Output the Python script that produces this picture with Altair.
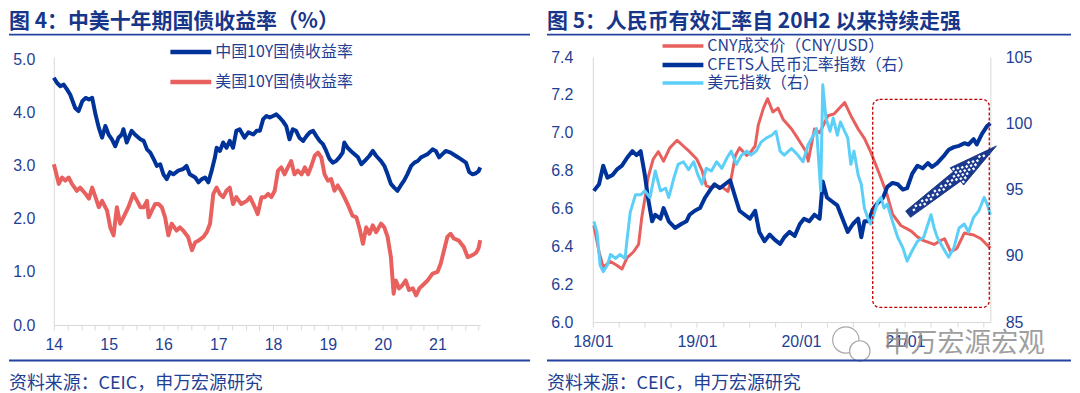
import math
import altair as alt
import numpy as np
import pandas as pd

CJK = "Noto Sans CJK SC"
NUM = "Liberation Sans"
LABEL_C = "#1F3F94"
TITLE_C = "#17368A"
RULE_C = "#2443A0"
AXIS_C = "#D9D9D9"

# ---------------- left panel data (decimal year, %) ----------------
cn_x = [2014.00, 2014.06, 2014.12, 2014.18, 2014.24, 2014.30, 2014.39, 2014.45, 2014.52, 2014.58, 2014.64, 2014.70, 2014.76, 2014.82, 2014.88, 2014.94,
        2015.00, 2015.06, 2015.12, 2015.18, 2015.24, 2015.27, 2015.33, 2015.42, 2015.48, 2015.58, 2015.64, 2015.70, 2015.76, 2015.82, 2015.88, 2015.94,
        2016.00, 2016.06, 2016.12, 2016.18, 2016.27, 2016.36, 2016.42, 2016.48, 2016.58, 2016.64, 2016.70, 2016.76, 2016.82, 2016.88, 2016.94, 2016.97,
        2017.03, 2017.09, 2017.15, 2017.21, 2017.27, 2017.33, 2017.39, 2017.48, 2017.55, 2017.64, 2017.70, 2017.76, 2017.82, 2017.88, 2017.94,
        2018.00, 2018.06, 2018.12, 2018.18, 2018.24, 2018.30, 2018.36, 2018.42, 2018.48, 2018.55, 2018.61, 2018.67, 2018.73, 2018.79, 2018.85, 2018.91, 2018.97,
        2019.03, 2019.09, 2019.15, 2019.21, 2019.27, 2019.30, 2019.36, 2019.45, 2019.55, 2019.61, 2019.67, 2019.76, 2019.82, 2019.88, 2019.97,
        2020.03, 2020.09, 2020.15, 2020.21, 2020.27, 2020.33, 2020.39, 2020.45, 2020.52, 2020.58, 2020.64, 2020.70, 2020.76, 2020.82, 2020.91, 2020.97,
        2021.03, 2021.09, 2021.15, 2021.24, 2021.33, 2021.42, 2021.52, 2021.58, 2021.64, 2021.70, 2021.75, 2021.78]
cn_y = [4.66, 4.56, 4.50, 4.53, 4.44, 4.34, 4.09, 4.03, 4.22, 4.28, 4.25, 4.28, 3.97, 3.72, 3.53, 3.75,
        3.59, 3.50, 3.37, 3.53, 3.59, 3.69, 3.44, 3.66, 3.59, 3.50, 3.47, 3.31, 3.25, 3.13, 3.00, 3.03,
        2.84, 2.75, 2.88, 2.84, 2.91, 2.94, 3.00, 2.84, 2.78, 2.69, 2.75, 2.78, 2.69, 2.91, 3.16, 3.34,
        3.28, 3.44, 3.34, 3.47, 3.34, 3.66, 3.69, 3.53, 3.63, 3.59, 3.66, 3.66, 3.88, 3.94, 3.91,
        3.94, 3.97, 3.91, 3.84, 3.75, 3.50, 3.69, 3.66, 3.53, 3.47, 3.56, 3.63, 3.66, 3.56, 3.47, 3.41, 3.28,
        3.13, 3.06, 3.09, 3.16, 3.25, 3.44, 3.34, 3.25, 3.16, 3.03, 3.09, 3.19, 3.28, 3.19, 3.09,
        3.00, 2.84, 2.66, 2.59, 2.53, 2.63, 2.72, 2.84, 3.00, 3.06, 3.09, 3.16, 3.19, 3.22, 3.31, 3.28,
        3.16, 3.22, 3.28, 3.25, 3.19, 3.13, 3.06, 2.88, 2.84, 2.86, 2.90, 2.97]

us_x = [2014.00, 2014.03, 2014.09, 2014.15, 2014.21, 2014.27, 2014.33, 2014.42, 2014.48, 2014.58, 2014.64, 2014.70, 2014.76, 2014.82, 2014.88, 2014.97,
        2015.03, 2015.09, 2015.15, 2015.21, 2015.27, 2015.36, 2015.45, 2015.52, 2015.58, 2015.64, 2015.70, 2015.73, 2015.79, 2015.85, 2015.91, 2015.97,
        2016.03, 2016.09, 2016.15, 2016.24, 2016.30, 2016.36, 2016.45, 2016.52, 2016.58, 2016.64, 2016.73, 2016.79, 2016.85, 2016.91, 2016.97,
        2017.03, 2017.09, 2017.15, 2017.21, 2017.27, 2017.33, 2017.42, 2017.52, 2017.58, 2017.64, 2017.68, 2017.72, 2017.79, 2017.85, 2017.91, 2017.97,
        2018.03, 2018.09, 2018.15, 2018.21, 2018.27, 2018.33, 2018.39, 2018.45, 2018.52, 2018.58, 2018.64, 2018.70, 2018.76, 2018.82, 2018.88, 2018.94,
        2019.00, 2019.06, 2019.12, 2019.18, 2019.24, 2019.30, 2019.36, 2019.45, 2019.52, 2019.58, 2019.64, 2019.70, 2019.76, 2019.82, 2019.88, 2019.97,
        2020.03, 2020.09, 2020.15, 2020.20, 2020.24, 2020.30, 2020.36, 2020.42, 2020.48, 2020.55, 2020.61, 2020.67, 2020.73, 2020.82, 2020.91,
        2021.00, 2021.06, 2021.12, 2021.18, 2021.24, 2021.30, 2021.39, 2021.48, 2021.55, 2021.60, 2021.66, 2021.71, 2021.75, 2021.78]
us_y = [3.03, 2.91, 2.66, 2.78, 2.72, 2.78, 2.66, 2.53, 2.59, 2.47, 2.38, 2.59, 2.41, 2.22, 2.34, 2.16,
        1.84, 1.69, 2.22, 1.91, 2.03, 2.22, 2.47, 2.34, 2.22, 2.22, 2.34, 2.03, 2.16, 2.28, 2.28, 2.22,
        2.03, 1.69, 1.91, 1.78, 1.84, 1.78, 1.66, 1.41, 1.56, 1.59, 1.66, 1.75, 1.91, 2.47, 2.59,
        2.47, 2.41, 2.53, 2.59, 2.28, 2.41, 2.28, 2.34, 2.41, 2.28, 2.19, 2.09, 2.41, 2.41, 2.47, 2.41,
        2.53, 2.91, 2.97, 2.84, 2.97, 3.09, 2.84, 2.91, 2.84, 2.97, 2.84, 3.00, 3.19, 3.25, 3.16, 2.84,
        2.72, 2.75, 2.53, 2.63, 2.53, 2.41, 2.28, 2.06, 2.03, 1.81, 1.53, 1.84, 1.72, 1.88, 1.75, 1.91,
        1.84, 1.66, 1.28, 0.59, 0.84, 0.69, 0.75, 0.84, 0.66, 0.69, 0.56, 0.69, 0.75, 0.84, 0.97,
        1.00, 1.16, 1.41, 1.66, 1.72, 1.63, 1.59, 1.47, 1.28, 1.30, 1.33, 1.37, 1.45, 1.60]

left_names = ["中国10Y国债收益率", "美国10Y国债收益率"]
left_colors = ["#003399", "#E8615F"]
left_x_ticks = [2014 + 0.25 * i for i in range(32)]
left_y_ticks = [0, 1, 2, 3, 4, 5]

# ---------------- right panel data ----------------
cny_x = [2018.01, 2018.06, 2018.10, 2018.17, 2018.23, 2018.28, 2018.33, 2018.39, 2018.44, 2018.47, 2018.50, 2018.53, 2018.58, 2018.63, 2018.68, 2018.74, 2018.81, 2018.87, 2018.93,
         2019.00, 2019.05, 2019.09, 2019.14, 2019.19, 2019.25, 2019.30, 2019.33, 2019.37, 2019.41, 2019.48, 2019.52, 2019.56, 2019.59, 2019.64, 2019.68, 2019.73, 2019.78, 2019.83, 2019.91, 2019.97,
         2020.05, 2020.07, 2020.13, 2020.18, 2020.26, 2020.32, 2020.42, 2020.48, 2020.55, 2020.61, 2020.67, 2020.72, 2020.77, 2020.83, 2020.88, 2020.96,
         2021.06, 2021.12, 2021.18, 2021.28, 2021.34, 2021.38, 2021.44, 2021.50, 2021.57, 2021.66, 2021.73, 2021.82]
cny_y = [6.51, 6.37, 6.29, 6.32, 6.30, 6.28, 6.34, 6.37, 6.41, 6.55, 6.65, 6.76, 6.86, 6.90, 6.85, 6.92, 6.96, 6.93, 6.90,
         6.86, 6.80, 6.72, 6.71, 6.72, 6.71, 6.69, 6.76, 6.88, 6.92, 6.88, 6.90, 6.93, 7.04, 7.13, 7.18, 7.11, 7.13, 7.07, 7.02, 6.97,
         6.90, 6.85, 7.02, 7.00, 7.09, 7.10, 7.16, 7.09, 7.02, 6.97, 6.90, 6.83, 6.76, 6.67, 6.57, 6.51,
         6.48, 6.45, 6.43, 6.41, 6.43, 6.44, 6.37, 6.39, 6.47, 6.46, 6.44, 6.39]

cfets_x = [2018.01, 2018.06, 2018.10, 2018.14, 2018.19, 2018.23, 2018.28, 2018.33, 2018.38, 2018.42, 2018.46, 2018.50, 2018.53, 2018.57, 2018.60, 2018.65, 2018.68, 2018.73, 2018.79, 2018.85, 2018.90, 2018.93, 2018.98,
           2019.03, 2019.08, 2019.14, 2019.17, 2019.22, 2019.27, 2019.32, 2019.37, 2019.41, 2019.46, 2019.51, 2019.56, 2019.60, 2019.65, 2019.70, 2019.75, 2019.80, 2019.84, 2019.89, 2019.94, 2019.99,
           2020.03, 2020.08, 2020.13, 2020.18, 2020.21, 2020.25, 2020.30, 2020.35, 2020.40, 2020.45, 2020.50, 2020.55, 2020.58, 2020.61, 2020.65, 2020.69, 2020.74, 2020.79, 2020.83, 2020.88, 2020.93, 2020.98,
           2021.02, 2021.07, 2021.12, 2021.17, 2021.22, 2021.26, 2021.31, 2021.38, 2021.42, 2021.47, 2021.52, 2021.57, 2021.61, 2021.66, 2021.69, 2021.74, 2021.79, 2021.82]
cfets_y = [94.9, 95.4, 96.8, 95.9, 96.1, 96.5, 96.8, 97.4, 97.9, 97.6, 97.9, 96.1, 94.4, 92.6, 93.1, 92.8, 93.6, 92.6, 92.1, 92.4, 92.6, 93.1, 93.4,
           93.6, 94.4, 95.1, 95.4, 95.1, 95.4, 95.7, 94.4, 93.4, 93.1, 92.8, 93.4, 91.8, 91.1, 91.6, 91.2, 90.9, 91.4, 91.8, 91.5, 92.4,
           92.8, 92.6, 93.1, 92.8, 95.6, 94.4, 94.1, 93.8, 92.8, 91.8, 92.4, 92.8, 91.4, 92.6, 92.6, 93.5, 94.0, 94.4, 95.2, 95.5, 95.4, 95.0,
           95.1, 96.2, 96.8, 96.6, 97.0, 96.7, 97.0, 97.6, 98.0, 98.2, 98.3, 98.5, 98.4, 98.8, 98.4, 99.2, 99.8, 100.0]

usd_x = [2018.01, 2018.04, 2018.07, 2018.10, 2018.14, 2018.17, 2018.22, 2018.26, 2018.31, 2018.33, 2018.36, 2018.41, 2018.46, 2018.50, 2018.55, 2018.60, 2018.65, 2018.70, 2018.73, 2018.78, 2018.82, 2018.87, 2018.92, 2018.97,
         2019.01, 2019.05, 2019.09, 2019.14, 2019.19, 2019.24, 2019.29, 2019.33, 2019.38, 2019.43, 2019.48, 2019.52, 2019.57, 2019.62, 2019.67, 2019.72, 2019.76, 2019.80, 2019.84, 2019.91, 2019.97,
         2020.02, 2020.07, 2020.12, 2020.15, 2020.19, 2020.21, 2020.24, 2020.28, 2020.31, 2020.35, 2020.38, 2020.42, 2020.45, 2020.48, 2020.51, 2020.55, 2020.58, 2020.61, 2020.64, 2020.67, 2020.70, 2020.74, 2020.77, 2020.80, 2020.83, 2020.88, 2020.93, 2020.98,
         2021.02, 2021.07, 2021.12, 2021.18, 2021.25, 2021.28, 2021.31, 2021.38, 2021.42, 2021.47, 2021.52, 2021.57, 2021.61, 2021.66, 2021.71, 2021.76, 2021.79, 2021.82]
usd_y = [92.6, 91.8, 89.3, 88.8, 89.3, 90.1, 89.8, 90.1, 89.8, 91.3, 93.3, 94.6, 94.6, 94.9, 94.4, 96.4, 94.9, 95.1, 94.4, 95.9, 96.9, 97.1, 96.5, 97.1,
         96.1, 95.4, 96.6, 96.4, 97.1, 96.6, 97.4, 97.9, 96.9, 97.6, 97.9, 97.6, 97.9, 98.6, 98.9, 99.1, 99.4, 97.9, 97.6, 98.1, 97.6,
         97.1, 98.4, 99.1, 99.6, 94.9, 102.9, 100.4, 99.4, 100.4, 99.1, 100.1, 99.4, 98.9, 96.9, 97.9, 96.1, 95.4, 93.6, 92.9, 92.4, 93.1, 94.1, 94.4, 93.6, 93.9, 92.6, 91.4, 90.6,
         89.6, 90.4, 91.1, 91.4, 93.1, 92.1, 91.4, 90.4, 89.9, 90.6, 92.1, 92.4, 91.8, 92.9, 93.4, 94.4, 93.9, 93.1]

right_names = ["CNY成交价（CNY/USD）", "CFETS人民币汇率指数（右）", "美元指数（右）"]
right_colors = ["#E8605E", "#003399", "#5CCFF8"]
right_x_ticks = [2018 + 0.25 * i for i in range(16)]
right_left_ticks = [6.0, 6.2, 6.4, 6.6, 6.8, 7.0, 7.2, 7.4]
right_right_ticks = [85, 90, 95, 100, 105]

# highlight box and arrow (right-axis data coordinates)
box_x0, box_x1 = [2020.69], [2021.81]
box_y0, box_y1 = [86.1], [101.8]
arrow_tail = (2021.03, 93.14)
arrow_tip = (2021.878, 98.29)

# ---------------- layout ----------------
LW, LH = 428, 269
RW, RH = 399, 266
R_XDOM = [2018, 2021.82]
R_YDOM = [85, 105]

one = pd.DataFrame({"k": [0]})


def decor(title, x0, x1):
    t = alt.Chart(one).mark_text(text=title, font=CJK, fontSize=21, fontWeight="bold", color=TITLE_C,
                                 align="left", baseline="middle").encode(x=alt.value(x0), y=alt.value(-35))
    r1 = alt.Chart(one).mark_rule(color=RULE_C, strokeWidth=2).encode(
        x=alt.value(x0), x2=alt.value(x1), y=alt.value(-22.5))
    r2 = alt.Chart(one).mark_rule(color=RULE_C, strokeWidth=2).encode(
        x=alt.value(x0), x2=alt.value(x1), y=alt.value(304.5))
    s = alt.Chart(one).mark_text(text="资料来源：CEIC，申万宏源研究", font=CJK, fontSize=18, color=LABEL_C,
                                 align="left", baseline="middle").encode(x=alt.value(x0), y=alt.value(328))
    return [t, r1, r2, s]


def legend_items(names, colors, widths, x0, x1, ys):
    out = []
    for name, col, w, yy in zip(names, colors, widths, ys):
        out.append(alt.Chart(one).mark_rule(color=col, strokeWidth=w).encode(
            x=alt.value(x0), x2=alt.value(x1), y=alt.value(yy)))
        out.append(alt.Chart(one).mark_text(text=name, font=CJK, fontSize=16, color=LABEL_C, align="left",
                                            baseline="middle").encode(x=alt.value(x1 + 4), y=alt.value(yy)))
    return out


def x_axis(values, expr):
    return alt.Axis(title=None, values=values, labelExpr=expr, grid=False, domainColor=AXIS_C,
                    tickColor=AXIS_C, tickSize=5, labelFont=NUM, labelFontSize=16, labelColor=LABEL_C,
                    labelPadding=7, labelFlush=False, labelOverlap=False)


def y_axis(values, fmt, orient, pad):
    return alt.Axis(title=None, values=values, format=fmt, orient=orient, grid=False, ticks=False,
                    domainColor=AXIS_C, labelFont=NUM, labelFontSize=16, labelColor=LABEL_C,
                    labelPadding=pad)


# ---------------- left chart ----------------
df_left = pd.concat([
    pd.DataFrame({"t": cn_x, "v": cn_y, "s": left_names[0]}),
    pd.DataFrame({"t": us_x, "v": us_y, "s": left_names[1]}),
])

lx = alt.X("t:Q", scale=alt.Scale(domain=[2014, 2021.78], nice=False, zero=False),
           axis=x_axis(left_x_ticks, "datum.value % 1 === 0 ? format(datum.value - 2000, 'd') : ''"))
ly = alt.Y("v:Q", scale=alt.Scale(domain=[0, 5.05], nice=False), axis=y_axis(left_y_ticks, ".1f", "left", 19))
lcol = alt.Color("s:N", scale=alt.Scale(domain=left_names, range=left_colors), legend=None)

left_lines = alt.Chart(df_left).mark_line(strokeWidth=4, strokeJoin="round").encode(x=lx, y=ly, color=lcol)
left = alt.layer(
    left_lines,
    *legend_items(left_names, left_colors, [4.5, 4.5], 117, 158, [-5, 25]),
    *decor("图 4：中美十年期国债收益率（%）", -45, 478)
).properties(width=LW, height=LH)

# ---------------- right chart ----------------
rxs = alt.Scale(domain=R_XDOM, nice=False, zero=False)
rax = x_axis(right_x_ticks, "datum.value % 1 === 0 ? format(datum.value - 2000, 'd') + '/01' : ''")
ryR_scale = alt.Scale(domain=R_YDOM, nice=False, zero=False)
ryR_axis = y_axis(right_right_ticks, "d", "right", 15)

rcol = alt.Color("s:N", scale=alt.Scale(domain=right_names, range=right_colors), legend=None)

df_cny = pd.DataFrame({"t": cny_x, "v": cny_y, "s": right_names[0]})
df_cfets = pd.DataFrame({"t": cfets_x, "v": cfets_y, "s": right_names[1]})
df_usd = pd.DataFrame({"t": usd_x, "v": usd_y, "s": right_names[2]})

cny_line = alt.Chart(df_cny).mark_line(strokeWidth=3, strokeJoin="round").encode(
    x=alt.X("t:Q", scale=rxs, axis=rax),
    y=alt.Y("v:Q", scale=alt.Scale(domain=[6.0, 7.4], nice=False, zero=False),
            axis=y_axis(right_left_ticks, ".1f", "left", 20)),
    color=rcol)

ryR = alt.Y("v:Q", scale=ryR_scale, axis=ryR_axis)
cfets_line = alt.Chart(df_cfets).mark_line(strokeWidth=4, strokeJoin="round").encode(
    x=alt.X("t:Q", scale=rxs, axis=rax), y=ryR, color=rcol)
usd_line = alt.Chart(df_usd).mark_line(strokeWidth=3, strokeJoin="round").encode(
    x=alt.X("t:Q", scale=rxs, axis=rax), y=ryR, color=rcol)

box = alt.Chart(pd.DataFrame({"bx0": box_x0, "bx1": box_x1, "by0": box_y0, "by1": box_y1})).mark_rect(
    fillOpacity=0, stroke="#C00000", strokeWidth=1.3, strokeDash=[3, 2], cornerRadius=7).encode(
    x=alt.X("bx0:Q", scale=rxs, axis=rax), x2="bx1:Q",
    y=alt.Y("by0:Q", scale=ryR_scale, axis=ryR_axis), y2="by1:Q")

# arrow symbol: a custom path in unit coordinates, tip at (0,-1), tail at (0,1)
a_t, a_n, a_h, neck = 0.071, 0.107, 0.196, -0.107
arrow_path = (f"M{-a_t},1L{a_t},1L{a_n},{neck}L{a_h},{neck}L0,-1L{-a_h},{neck}L{-a_n},{neck}Z")


def half_width(yv):
    if yv >= neck:
        return a_t + (a_n - a_t) * (1 - yv) / (1 - neck)
    return a_h * (yv + 1) / (neck + 1)


dot_parts = []
d = 0.021
sp = 0.072
for row, gy in enumerate(np.arange(-0.93, 0.98, sp)):
    off = (sp / 2) if row % 2 else 0.0
    for gx in np.arange(-0.25 + off, 0.25, sp):
        if abs(gx) + d + 0.02 < half_width(gy) and gy + d < 0.97:
            dot_parts.append(f"M{gx - d:.3f},{gy - d:.3f}h{2 * d:.3f}v{2 * d:.3f}h{-2 * d:.3f}Z")
dots_path = "".join(dot_parts)

px_per_x = RW / (R_XDOM[1] - R_XDOM[0])
px_per_y = RH / (R_YDOM[1] - R_YDOM[0])
dxp = (arrow_tip[0] - arrow_tail[0]) * px_per_x
dyp = (arrow_tip[1] - arrow_tail[1]) * px_per_y
arrow_len = math.hypot(dxp, dyp)
arrow_angle = math.degrees(math.atan2(dxp, dyp))
arrow_df = pd.DataFrame({"ax": [(arrow_tail[0] + arrow_tip[0]) / 2], "ay": [(arrow_tail[1] + arrow_tip[1]) / 2]})

arrow = alt.Chart(arrow_df).mark_point(shape=arrow_path, size=arrow_len ** 2, angle=arrow_angle, filled=True,
                                       fill="#1B3A8F", stroke="#14307E", strokeWidth=0.8, opacity=1).encode(
    x=alt.X("ax:Q", scale=rxs, axis=rax), y=alt.Y("ay:Q", scale=ryR_scale, axis=ryR_axis))
arrow_dots = alt.Chart(arrow_df).mark_point(shape=dots_path, size=arrow_len ** 2, angle=arrow_angle, filled=True,
                                            fill="white", strokeWidth=0, opacity=1).encode(
    x=alt.X("ax:Q", scale=rxs, axis=rax), y=alt.Y("ay:Q", scale=ryR_scale, axis=ryR_axis))

right_side = alt.layer(cfets_line, usd_line, box, arrow, arrow_dots)

# watermark (WeChat-like bubbles + account name)
wm_bub1 = alt.Chart(one).mark_point(shape="circle", size=700, filled=True, fill="white", stroke="#A8A8A8",
                                    strokeWidth=1.2, opacity=1).encode(x=alt.value(254), y=alt.value(284))
wm_bub2 = alt.Chart(one).mark_point(shape="circle", size=420, filled=True, fill="white", stroke="#A8A8A8",
                                    strokeWidth=1.2, opacity=1).encode(x=alt.value(268), y=alt.value(295))
wm_text = alt.Chart(one).mark_text(text="申万宏源宏观", font=CJK, fontSize=27, color="#8F8F8F", opacity=0.85,
                                   align="left", baseline="middle").encode(x=alt.value(292), y=alt.value(288))

right = alt.layer(
    cny_line, right_side, wm_bub1, wm_bub2, wm_text,
    *legend_items(right_names, right_colors, [3.5, 4.5, 3.5], 70, 111, [-11, 8, 26]),
    *decor("图 5：人民币有效汇率自 20H2 以来持续走强", -46, 480)
).resolve_scale(y="independent").properties(width=RW, height=RH)

chart = alt.hconcat(left, right, spacing=15).resolve_scale(color="independent").properties(
    padding={"left": 0, "top": 2.5, "right": 0, "bottom": 0}).configure_view(stroke=None)

chart.save("out.html", embed_options={"renderer": "svg", "actions": False})
